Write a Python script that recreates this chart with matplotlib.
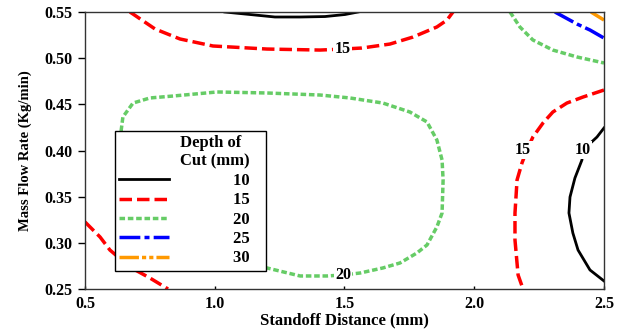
import matplotlib
matplotlib.use("Agg")
import matplotlib.pyplot as plt

plt.rcParams["font.family"] = ["Liberation Serif", "DejaVu Serif"]
plt.rcParams["font.weight"] = "bold"
plt.rcParams["lines.scale_dashes"] = False

# contour traces: standoff distance (mm) / mass flow rate (kg/min)
c10_top_x = [1.039, 1.136, 1.232, 1.329, 1.425, 1.502, 1.552]
c10_top_y = [0.550, 0.5473, 0.5446, 0.5446, 0.5451, 0.5473, 0.550]

c10_right_x = [2.500, 2.473, 2.419, 2.415, 2.388, 2.369, 2.365, 2.380, 2.400, 2.446, 2.500]
c10_right_y = [0.4244, 0.4146, 0.4005, 0.3897, 0.3702, 0.3496, 0.3323, 0.3107, 0.2922, 0.2706, 0.2587]

c15_top_x = [0.673, 0.685, 0.770, 0.866, 0.993, 1.201, 1.406, 1.494, 1.567, 1.675, 1.764, 1.856, 1.895, 1.918]
c15_top_y = [0.550, 0.5478, 0.5316, 0.5208, 0.5132, 0.5099, 0.5088, 0.5099, 0.5110, 0.5153, 0.5229, 0.5338, 0.5413, 0.550]

c15_left_x = [0.500, 0.558, 0.596, 0.673, 0.750, 0.820]
c15_left_y = [0.3226, 0.3063, 0.2922, 0.2738, 0.2619, 0.250]

c15_right_x = [2.500, 2.419, 2.357, 2.303, 2.265, 2.226, 2.203, 2.184, 2.165, 2.157, 2.157, 2.169, 2.188]
c15_right_y = [0.4655, 0.4579, 0.4514, 0.4417, 0.4298, 0.4146, 0.4005, 0.3865, 0.3681, 0.3323, 0.3031, 0.2652, 0.250]

c20_loop_x = [0.639, 0.646, 0.685, 0.750, 0.839, 1.009, 1.201, 1.406, 1.521, 1.648, 1.752, 1.818,
              1.856, 1.876, 1.880, 1.876, 1.856, 1.818, 1.779, 1.714, 1.648, 1.560, 1.494, 1.433,
              1.329, 1.201, 1.059, 0.943, 0.750, 0.666, 0.639]
c20_loop_y = [0.4211, 0.4363, 0.4514, 0.4569, 0.4590, 0.4634, 0.4623, 0.4601, 0.4569, 0.4514, 0.4417, 0.4309,
              0.4114, 0.3897, 0.3681, 0.3323, 0.3172, 0.2977, 0.2890, 0.2782, 0.2728, 0.2673, 0.2652, 0.2641,
              0.2641, 0.2728, 0.2868, 0.2977, 0.3356, 0.3789, 0.4211]

c20_corner_x = [2.138, 2.176, 2.226, 2.303, 2.396, 2.500]
c20_corner_y = [0.550, 0.5338, 0.5197, 0.5088, 0.5013, 0.4948]

c25_x = [2.311, 2.396, 2.446, 2.500]
c25_y = [0.550, 0.5370, 0.5305, 0.5218]

c30_x = [2.450, 2.500]
c30_y = [0.550, 0.5413]

levels = ["10", "15", "20", "25", "30"]
label_x = [1.494, 1.494, 2.188, 2.419]
label_y = [0.510, 0.2652, 0.4005, 0.4005]
label_txt = ["15", "20", "15", "10"]

x_ticks = [0.5, 1.0, 1.5, 2.0, 2.5]
y_ticks = [0.25, 0.30, 0.35, 0.40, 0.45, 0.50, 0.55]

styles = {
    "10": dict(color="black", linestyle="-", linewidth=2.0),
    "15": dict(color="#FF0000", linestyle=(0, (9.0, 3.6)), linewidth=2.5),
    "20": dict(color="#66CC66", linestyle=(0, (4.0, 2.0)), linewidth=2.5),
    "25": dict(color="#0000FF", linestyle=(0, (15.0, 3.0, 3.6, 3.0)), linewidth=2.5),
    "30": dict(color="#FF9900", linestyle=(0, (14.0, 2.2, 3.0, 2.2, 3.0, 2.2)), linewidth=2.5),
}

fig = plt.figure(figsize=(6.21, 3.31), dpi=100)
ax = fig.add_axes([0.1369, 0.1269, 0.9726 - 0.1369, 0.9637 - 0.1269])

ax.plot(c10_top_x, c10_top_y, **styles["10"])
ax.plot(c10_right_x, c10_right_y, **styles["10"])
ax.plot(c15_top_x, c15_top_y, **styles["15"])
ax.plot(c15_left_x, c15_left_y, **styles["15"])
ax.plot(c15_right_x, c15_right_y, **styles["15"])
ax.plot(c20_loop_x, c20_loop_y, **styles["20"])
ax.plot(c20_corner_x, c20_corner_y, **styles["20"])
ax.plot(c25_x, c25_y, **styles["25"])
ax.plot(c30_x, c30_y, **styles["30"])

# inline contour labels
for lx, ly, t in zip(label_x, label_y, label_txt):
    ax.text(lx, ly, t, ha="center", va="center", fontsize=11.5, fontweight="bold",
            bbox=dict(facecolor="white", edgecolor="none", pad=1.0))

ax.set_xlim(0.5, 2.5)
ax.set_ylim(0.25, 0.55)
ax.set_xticks(x_ticks)
ax.set_xticklabels([f"{v:.1f}" for v in x_ticks])
ax.set_yticks(y_ticks)
ax.set_yticklabels([f"{v:.2f}" for v in y_ticks])
ax.tick_params(axis="y", direction="out", length=5, width=1, labelsize=11.5, pad=4)
ax.tick_params(axis="x", direction="in", length=2, width=1, labelsize=11.5, pad=5)
for s in ax.spines.values():
    s.set_color("#333333")
    s.set_linewidth(1)

ax.set_xlabel("Standoff Distance (mm)", fontsize=12, fontweight="bold", labelpad=0)
ax.set_ylabel("Mass Flow Rate (Kg/min)", fontsize=10.5, fontweight="bold", labelpad=9)

# legend with the line styles
pad = "   "
handles = [plt.Line2D([], [], **styles[k]) for k in levels]
leg = ax.legend(handles, [k + pad for k in levels], title="Depth of" + pad + "\nCut (mm)" + pad,
                loc="upper left", bbox_to_anchor=(0.0578, 0.570), fontsize=12, title_fontsize=12,
                handlelength=3.0, handletextpad=3.8, borderpad=0.25, labelspacing=0.2,
                frameon=True, fancybox=False, edgecolor="black", framealpha=1,
                alignment="right", borderaxespad=0)
leg.get_frame().set_linewidth(1)
for t in leg.get_texts():
    t.set_fontweight("bold")
leg.get_title().set_fontweight("bold")
leg.set_zorder(5)

fig.savefig("out.png", dpi=100)
